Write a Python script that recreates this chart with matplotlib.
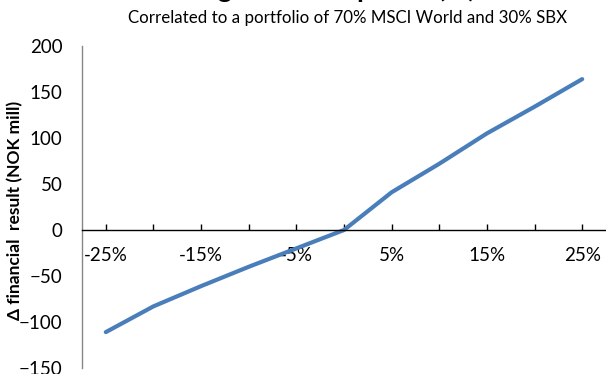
import matplotlib
matplotlib.use("Agg")
import matplotlib.pyplot as plt
import numpy as np

# market move categories and change in financial result (NOK mill)
categories = ['-25%', '-20%', '-15%', '-10%', '-5%', '0%', '5%', '10%', '15%', '20%', '25%']
result_change = [-111, -83, -61, -40, -20, 0, 41, 72, 105, 134, 164]
y_ticks = [-150, -100, -50, 0, 50, 100, 150, 200]

title = 'Change in stock prices (%)'
subtitle = 'Correlated to a portfolio of 70% MSCI World and 30% SBX'
ylabel = 'Δ financial  result (NOK mill)'

plt.rcParams['font.family'] = ['Lato', 'DejaVu Sans']

fig = plt.figure(figsize=(6.06, 3.74), dpi=100)
ax = fig.add_axes([82 / 606, 1 - 368 / 374, 1 - 82 / 606, (368 - 46) / 374])

x = np.arange(len(categories))
ax.plot(x, result_change, color='#4A7EBB', linewidth=3, solid_capstyle='round')

ax.set_xlim(-0.5, len(categories) - 0.5)
ax.set_ylim(-150, 200)

# x axis crosses at zero, ticks point up
ax.spines['bottom'].set_position(('data', 0))
ax.spines['bottom'].set_color('black')
ax.spines['bottom'].set_linewidth(1.0)
ax.spines['left'].set_color('#868686')
ax.spines['left'].set_linewidth(1.0)
ax.spines['top'].set_visible(False)
ax.spines['right'].set_visible(False)

ax.set_xticks(x)
ax.set_xticklabels([c if i % 2 == 0 else '' for i, c in enumerate(categories)])
ax.tick_params(axis='x', direction='in', length=4, width=1, pad=12, labelsize=13.5)
ax.set_yticks(y_ticks)
ax.tick_params(axis='y', length=0, pad=14, labelsize=13.5)

ax.set_ylabel(ylabel, fontsize=12.5, fontweight='bold')
ax.yaxis.set_label_coords(-0.113, 0.49)

fig.text(0.52, 1.0 + 3 / 374, title, ha='center', va='baseline', fontsize=20, fontweight='bold')
fig.text(0.573, 1 - 18 / 374, subtitle, ha='center', va='center', fontsize=12.2)

fig.savefig('out.png', dpi=100)
